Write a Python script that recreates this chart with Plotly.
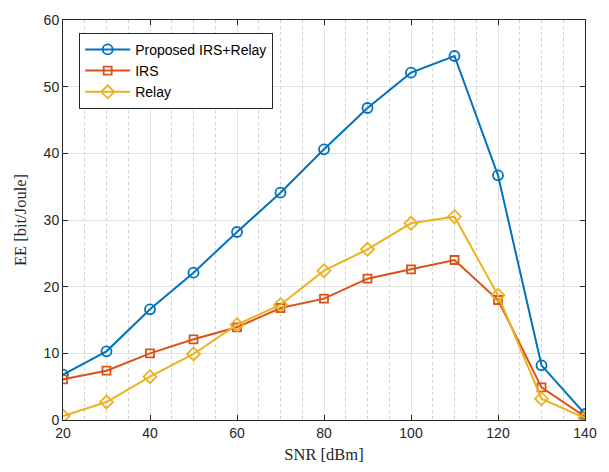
import plotly.graph_objects as go

snr = [20, 30, 40, 50, 60, 70, 80, 90, 100, 110, 120, 130, 140]
proposed = [6.8, 10.3, 16.6, 22.1, 28.2, 34.1, 40.6, 46.8, 52.1, 54.6, 36.7, 8.2, 0.9]
irs = [6.1, 7.4, 10.0, 12.1, 13.9, 16.8, 18.2, 21.2, 22.6, 24.0, 18.0, 4.9, 0.5]
relay = [0.6, 2.7, 6.5, 9.9, 14.3, 17.3, 22.4, 25.6, 29.5, 30.5, 18.7, 3.2, 0.3]

names = ["Proposed IRS+Relay", "IRS", "Relay"]
colors = ["#0072BD", "#D95319", "#EDB120"]
symbols = ["circle-open", "square-open", "diamond-open"]
sizes = [10, 8, 10]

fig = go.Figure()
for name, ys, c, s, sz in zip(names, [proposed, irs, relay], colors, symbols, sizes):
    fig.add_trace(go.Scatter(
        x=snr, y=ys, name=name, mode="lines+markers",
        line=dict(color=c, width=2),
        marker=dict(symbol=s, size=sz, color=c, line=dict(color=c, width=1.8)),
    ))

axis_common = dict(
    showline=True, linecolor="#262626", linewidth=1, mirror="allticks",
    ticks="inside", ticklen=5, tickcolor="#262626",
    showgrid=True, gridcolor="#e3e3e3", gridwidth=1, zeroline=False,
    tickfont=dict(family="Liberation Sans, Arial", size=14, color="#262626"),
)

fig.update_xaxes(
    range=[20, 140], tickvals=[20, 40, 60, 80, 100, 120, 140],
    title=dict(text="SNR [dBm]", font=dict(family="Liberation Serif, DejaVu Serif", size=16.5, color="#262626"), standoff=8),
    minor=dict(dtick=5, tick0=0, showgrid=True, gridcolor="#d0d0d0", griddash="dot", gridwidth=1, ticks=""),
    **axis_common,
)
fig.update_yaxes(
    range=[0, 60], tickvals=[0, 10, 20, 30, 40, 50, 60],
    title=dict(text="EE [bit/Joule]", font=dict(family="Liberation Serif, DejaVu Serif", size=16.5, color="#262626"), standoff=12),
    **axis_common,
)

fig.update_layout(
    width=609, height=472,
    margin=dict(l=63, r=24, t=12, b=50),
    paper_bgcolor="white", plot_bgcolor="white",
    showlegend=True,
    legend=dict(
        x=0.031, y=0.968, xanchor="left", yanchor="top",
        bgcolor="white", bordercolor="#262626", borderwidth=1,
        font=dict(family="Liberation Sans, Arial", size=14, color="#000000"),
        itemwidth=45, tracegroupgap=0,
    ),
)

fig.write_html("out.html")
